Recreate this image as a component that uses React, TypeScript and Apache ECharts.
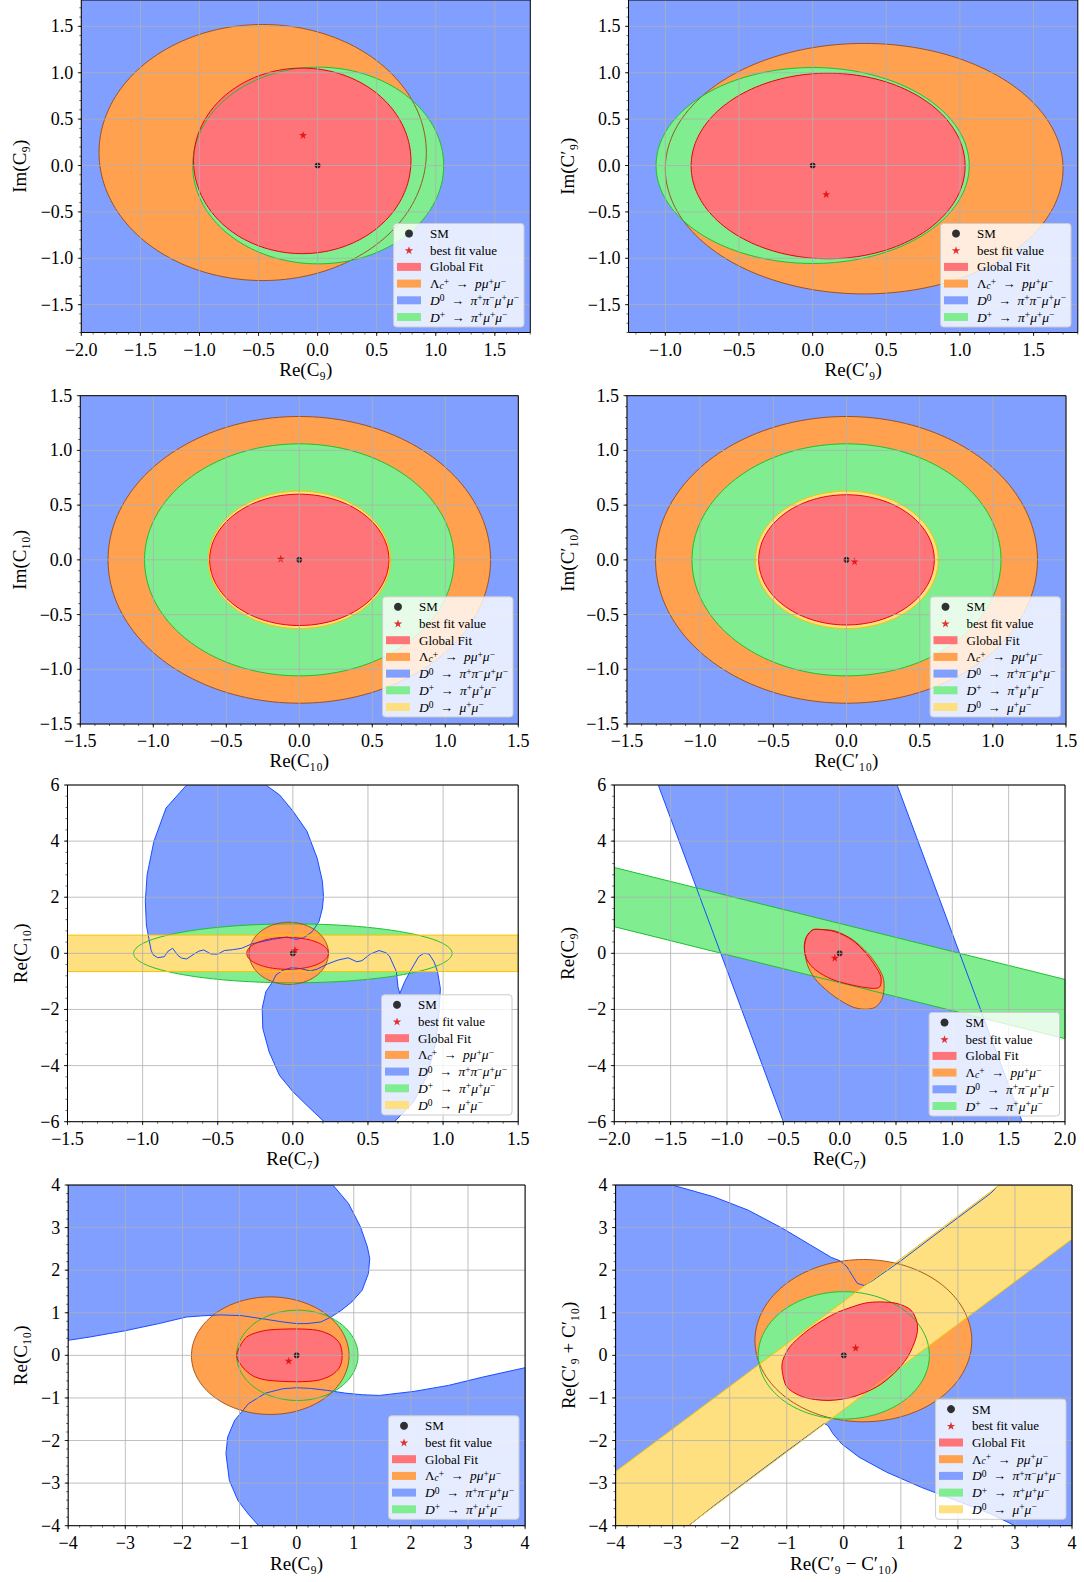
import React, { useEffect, useRef } from 'react';
import * as echarts from 'echarts';

const FONT = 'Liberation Serif';
const PAGE_W = 1084;
const PAGE_H = 1582;

// ---------------- colours ----------------
const FILL = { red: '#ff7479', orange: '#ffa14f', blue: '#809ffe', green: '#80ed91', yellow: '#fee081' };
const EDGE = { red: '#e8000b', orange: '#9a4a10', blue: '#1a4cff', green: '#1fbf2f', yellow: '#f5c400' };
const GRID_COLOR = '#b0b0b0';

// ---------------- legend names ----------------
const N_SM = 'SM';
const N_BF = 'best fit value';
const N_GF = 'Global Fit';
const N_LC = 'Λc⁺ → pμ⁺μ⁻';
const N_D0PP = 'D⁰ → π⁺π⁻μ⁺μ⁻';
const N_DP = 'D⁺ → π⁺μ⁺μ⁻';
const N_D0MM = 'D⁰ → μ⁺μ⁻';

const ARROW = '\u2002→\u2002';
const LEGEND_RICH_TEXT = {
  [N_SM]: '{g| }SM',
  [N_BF]: '{g| }best fit value',
  [N_GF]: '{g| }Global Fit',
  [N_LC]: '{g| }Λ{sub|c}{sup|+}' + ARROW + '{i|pμ}{sup|+}{i|μ}{sup|−}',
  [N_D0PP]: '{g| }{i|D}{sup|0}' + ARROW + '{i|π}{sup|+}{i|π}{sup|−}{i|μ}{sup|+}{i|μ}{sup|−}',
  [N_DP]: '{g| }{i|D}{sup|+}' + ARROW + '{i|π}{sup|+}{i|μ}{sup|+}{i|μ}{sup|−}',
  [N_D0MM]: '{g| }{i|D}{sup|0}' + ARROW + '{i|μ}{sup|+}{i|μ}{sup|−}',
};

const STAR = 'path://M50,0 L61.8,35.1 L98.1,35.1 L68.8,56.7 L79.4,90.9 L50,69.1 L20.6,90.9 L31.2,56.7 L1.9,35.1 L38.2,35.1 Z';

// ================= DATA =================
// ellipse: [centre x, centre y, half-width x, half-height y, correlation]

// ---- Panel 1: Re(C9) / Im(C9)
const P1_X_RANGE = [-2.0, 1.8];
const P1_Y_RANGE = [-1.8, 1.784];
const P1_X_TICKS = [-2.0, -1.5, -1.0, -0.5, 0.0, 0.5, 1.0, 1.5];
const P1_Y_TICKS = [-1.5, -1.0, -0.5, 0.0, 0.5, 1.0, 1.5];
const P1_ORANGE = [-0.465, 0.14, 1.385, 1.38, 0];
const P1_GREEN = [0.005, 0.0, 1.062, 1.06, 0];
const P1_RED = [-0.13, 0.05, 0.92, 1.0, 0];
const P1_BEST = [-0.123, 0.33];

// ---- Panel 2: Re(C9') / Im(C9')
const P2_X_RANGE = [-1.25, 1.8];
const P2_Y_RANGE = [-1.8, 1.784];
const P2_X_TICKS = [-1.0, -0.5, 0.0, 0.5, 1.0, 1.5];
const P2_Y_TICKS = [-1.5, -1.0, -0.5, 0.0, 0.5, 1.0, 1.5];
const P2_ORANGE = [0.35, -0.034, 1.35, 1.35, 0];
const P2_GREEN = [0.0, 0.0, 1.063, 1.056, 0];
const P2_RED = [0.105, -0.005, 0.93, 1.0, 0];
const P2_BEST = [0.092, -0.308];

// ---- Panel 3: Re(C10) / Im(C10)
const P3_X_RANGE = [-1.5, 1.5];
const P3_Y_RANGE = [-1.5, 1.5];
const P3_X_TICKS = [-1.5, -1.0, -0.5, 0.0, 0.5, 1.0, 1.5];
const P3_Y_TICKS = [-1.5, -1.0, -0.5, 0.0, 0.5, 1.0, 1.5];
const P3_ORANGE = [0.0, 0.0, 1.31, 1.31, 0];
const P3_GREEN = [0.0, 0.0, 1.06, 1.06, 0];
const P3_YELLOW = [0.0, 0.0, 0.624, 0.628, 0];
const P3_RED = [0.0, 0.0, 0.614, 0.6, 0];
const P3_BEST = [-0.127, 0.01];

// ---- Panel 4: Re(C10') / Im(C10')
const P4_X_RANGE = [-1.5, 1.5];
const P4_Y_RANGE = [-1.5, 1.5];
const P4_X_TICKS = [-1.5, -1.0, -0.5, 0.0, 0.5, 1.0, 1.5];
const P4_Y_TICKS = [-1.5, -1.0, -0.5, 0.0, 0.5, 1.0, 1.5];
const P4_ORANGE = [0.0, 0.0, 1.305, 1.31, 0];
const P4_GREEN = [0.0, 0.0, 1.056, 1.06, 0];
const P4_YELLOW = [0.002, 0.0, 0.625, 0.628, 0];
const P4_RED = [0.0, 0.0, 0.6, 0.595, 0];
const P4_BEST = [0.055, -0.012];

// ---- Panel 5: Re(C7) / Re(C10)
const P5_X_RANGE = [-1.5, 1.5];
const P5_Y_RANGE = [-6, 6];
const P5_X_TICKS = [-1.5, -1.0, -0.5, 0.0, 0.5, 1.0, 1.5];
const P5_Y_TICKS = [-6, -4, -2, 0, 2, 4, 6];
const P5_BLUE_UPPER = [
  [-0.707, 6.0], [-0.18, 6.0], [-0.089, 5.65], [0.002, 5.06], [0.094, 4.35], [0.162, 3.39],
  [0.197, 2.56], [0.204, 2.02], [0.197, 1.61], [0.174, 1.13], [0.128, 0.77], [0.07, 0.55],
  [0.02, 0.5], [-0.04, 0.58], [-0.135, 0.5], [-0.272, 0.34], [-0.341, 0.18], [-0.40, 0.13],
  [-0.455, 0.1], [-0.501, -0.03], [-0.547, -0.02], [-0.593, 0.12], [-0.625, 0.08], [-0.65, 0.0],
  [-0.707, -0.2], [-0.74, -0.17], [-0.764, -0.08], [-0.80, 0.18], [-0.83, 0.08], [-0.856, -0.12],
  [-0.90, -0.155], [-0.93, -0.05], [-0.943, 0.1], [-0.959, 0.54], [-0.975, 1.01], [-0.982, 1.85],
  [-0.97, 2.80], [-0.925, 3.99], [-0.844, 5.18],
];
const P5_BLUE_LOWER = [
  [0.208, -6.0], [0.117, -5.54], [0.002, -4.94], [-0.089, -4.35], [-0.158, -3.51], [-0.2, -2.68],
  [-0.204, -1.96], [-0.18, -1.37], [-0.135, -1.01], [-0.112, -0.77], [-0.066, -0.6], [-0.009, -0.51],
  [0.048, -0.54], [0.117, -0.63], [0.162, -0.56], [0.231, -0.38], [0.3, -0.24], [0.368, -0.16],
  [0.426, -0.3], [0.46, -0.26], [0.517, -0.02], [0.574, 0.1], [0.62, 0.02], [0.643, -0.1],
  [0.689, -0.65], [0.7, -1.2], [0.712, -1.43], [0.745, -1.0], [0.78, -0.65], [0.837, -0.12],
  [0.872, 0.0], [0.906, -0.02], [0.94, -0.3], [0.963, -0.65], [0.982, -1.25], [0.975, -1.96],
  [0.952, -3.15], [0.895, -4.35], [0.803, -5.3], [0.677, -6.0],
];
const P5_GREEN = [0.0, 0.0, 1.06, 1.05, 0];
const P5_YELLOW = [[-1.5, 0.65], [1.5, 0.65], [1.5, -0.65], [-1.5, -0.65]];
const P5_ORANGE = [-0.027, 0.0, 0.264, 1.107, 0];
const P5_RED = [-0.035, 0.0, 0.272, 0.57, 0];
const P5_BEST = [0.014, 0.12];

// ---- Panel 6: Re(C7) / Re(C9)
const P6_X_RANGE = [-2.0, 2.0];
const P6_Y_RANGE = [-6, 6];
const P6_X_TICKS = [-2.0, -1.5, -1.0, -0.5, 0.0, 0.5, 1.0, 1.5, 2.0];
const P6_Y_TICKS = [-6, -4, -2, 0, 2, 4, 6];
const P6_BLUE = [[-1.61, 6.0], [0.51, 6.0], [1.62, -6.0], [-0.5, -6.0]];
const P6_GREEN = [[-2.0, 3.06], [2.0, -0.93], [2.0, -3.04], [-2.0, 0.95]];
const P6_ORANGE = [
  [-0.197, 0.857], [-0.043, 0.80], [0.111, 0.5], [0.25, 0.0], [0.33, -0.42], [0.385, -0.85],
  [0.394, -1.25], [0.372, -1.667], [0.311, -1.93], [0.218, -1.99], [0.111, -1.905], [-0.043, -1.548],
  [-0.197, -1.01], [-0.274, -0.536], [-0.31, 0.0], [-0.31, 0.3], [-0.29, 0.6], [-0.24, 0.83],
];
const P6_RED = [
  [-0.197, 0.857], [-0.043, 0.774], [0.111, 0.476], [0.234, 0.0], [0.311, -0.417], [0.366, -0.833],
  [0.357, -1.19], [0.295, -1.25], [0.111, -1.13], [-0.074, -0.917], [-0.212, -0.595], [-0.289, -0.238],
  [-0.314, 0.238], [-0.295, 0.595], [-0.243, 0.833],
];
const P6_BEST = [-0.043, -0.155];

// ---- Panel 7: Re(C9) / Re(C10)
const P7_X_RANGE = [-4, 4];
const P7_Y_RANGE = [-4, 4];
const P7_X_TICKS = [-4, -3, -2, -1, 0, 1, 2, 3, 4];
const P7_Y_TICKS = [-4, -3, -2, -1, 0, 1, 2, 3, 4];
const P7_BLUE_UPPER = [
  [-4.0, 4.0], [0.634, 4.0], [0.906, 3.57], [1.117, 3.02], [1.238, 2.55], [1.28, 2.27], [1.256, 1.92],
  [1.147, 1.53], [0.966, 1.255], [0.785, 1.06], [0.604, 0.90], [0.423, 0.784], [0.181, 0.745],
  [0.0, 0.745], [-0.242, 0.784], [-0.543, 0.847], [-0.966, 0.933], [-1.33, 0.95], [-1.69, 0.925],
  [-1.93, 0.90], [-2.415, 0.745], [-3.02, 0.573], [-3.62, 0.431], [-4.0, 0.353],
];
const P7_BLUE_LOWER = [
  [-0.664, -4.0], [-0.845, -3.73], [-1.027, -3.41], [-1.178, -2.94], [-1.238, -2.31], [-1.208, -1.92],
  [-1.087, -1.53], [-0.845, -1.137], [-0.543, -0.886], [-0.242, -0.784], [0.0, -0.761], [0.242, -0.776],
  [0.543, -0.824], [0.845, -0.886], [1.147, -0.925], [1.449, -0.941], [2.053, -0.847], [2.657, -0.706],
  [3.26, -0.51], [4.0, -0.29], [4.0, -4.0],
];
const P7_GREEN = [0.012, 0.0, 1.063, 1.06, 0];
const P7_ORANGE = [-0.462, -0.008, 1.38, 1.38, 0];
const P7_RED = [
  [-1.05, 0.0], [-1.027, 0.118], [-0.966, 0.275], [-0.876, 0.43], [-0.725, 0.525], [-0.483, 0.596],
  [0.0, 0.62], [0.362, 0.588], [0.604, 0.47], [0.755, 0.275], [0.797, 0.0], [0.755, -0.275],
  [0.604, -0.47], [0.362, -0.588], [0.0, -0.62], [-0.483, -0.588], [-0.725, -0.51], [-0.894, -0.353],
  [-1.027, -0.118],
];
const P7_BEST = [-0.139, -0.125];

// ---- Panel 8: Re(C9' - C10') / Re(C9' + C10')
const P8_X_RANGE = [-4, 4];
const P8_Y_RANGE = [-4, 4];
const P8_X_TICKS = [-4, -3, -2, -1, 0, 1, 2, 3, 4];
const P8_Y_TICKS = [-4, -3, -2, -1, 0, 1, 2, 3, 4];
const P8_BLUE = [
  [-4.0, 4.0], [-3.01, 4.0], [-2.284, 3.725], [-1.677, 3.41], [-1.07, 2.98], [-0.583, 2.59],
  [-0.219, 2.3], [-0.067, 2.22], [0.055, 2.08], [0.146, 1.88], [0.237, 1.69], [0.358, 1.64],
  [0.51, 1.76], [1.0, 2.22], [1.6, 2.83], [2.21, 3.44], [2.57, 3.8], [2.72, 4.0], [4.0, 4.0],
  [4.0, -4.0], [3.0, -4.0], [2.58, -3.725], [1.97, -3.41], [1.36, -3.1], [0.753, -2.745],
  [0.267, -2.39], [-0.036, -2.08], [-0.188, -1.843], [-0.279, -1.647], [-0.34, -1.6],
  [-0.583, -1.84], [-1.07, -2.32], [-1.677, -2.93], [-2.284, -3.54], [-2.72, -4.0], [-4.0, -4.0],
];
const P8_ORANGE = [0.343, 0.345, 1.9, 1.905, 0];
const P8_GREEN = [0.0, 0.0, 1.5, 1.495, 0];
const P8_YELLOW = [[-4.0, -2.73], [2.73, 4.0], [4.0, 4.0], [4.0, 2.73], [-2.73, -4.0], [-4.0, -4.0]];
const P8_RED = [
  [0.632, 1.255], [0.936, 1.216], [1.179, 1.059], [1.288, 0.745], [1.27, 0.431], [1.118, -0.04],
  [0.875, -0.431], [0.571, -0.745], [0.146, -0.98], [-0.279, -1.059], [-0.705, -0.98], [-0.996, -0.745],
  [-1.081, -0.353], [-1.069, -0.118], [-0.948, 0.196], [-0.705, 0.51], [-0.462, 0.745], [-0.158, 0.98],
  [0.146, 1.137], [0.389, 1.23],
];
const P8_BEST = [0.207, 0.18];

const SM_POINT = [0, 0];

// ================= helpers =================
function ellipse(e) {
  const [cx, cy, a, b, rho] = e;
  const s = Math.sqrt(1 - rho * rho);
  const pts = [];
  const n = 180;
  for (let k = 0; k < n; k++) {
    const t = (2 * Math.PI * k) / n;
    pts.push([cx + a * Math.cos(t), cy + b * (rho * Math.cos(t) + s * Math.sin(t))]);
  }
  return pts;
}
function rectOf(xr, yr) {
  return [[xr[0], yr[0]], [xr[1], yr[0]], [xr[1], yr[1]], [xr[0], yr[1]]];
}
function fmt(dec) {
  return (v) => {
    const s = Math.abs(v).toFixed(dec);
    return (v < -1e-9 ? '−' : '') + s;
  };
}
function minorVals(lo, hi, step) {
  const out = [];
  const k0 = Math.ceil(lo / step - 1e-6);
  const k1 = Math.floor(hi / step + 1e-6);
  for (let k = k0; k <= k1; k++) out.push(k * step);
  return out;
}

const L_BLUE = (polys) => ({ name: N_D0PP, fill: FILL.blue, edge: EDGE.blue, lw: 1, polys });
const L_BLUE_BG = (polys) => ({ name: N_D0PP, fill: FILL.blue, polys });
const L_ORANGE = (polys, smooth = 0) => ({ name: N_LC, fill: FILL.orange, edge: EDGE.orange, lw: 0.9, polys, smooth });
const L_GREEN = (polys) => ({ name: N_DP, fill: FILL.green, edge: EDGE.green, lw: 1, polys });
const L_YELLOW = (polys) => ({ name: N_D0MM, fill: FILL.yellow, edge: EDGE.yellow, lw: 1, polys });
const L_RED = (polys, smooth = 0) => ({ name: N_GF, fill: FILL.red, edge: EDGE.red, lw: 1, polys, smooth });

const LEG6 = [N_SM, N_BF, N_GF, N_LC, N_D0PP, N_DP];
const LEG7 = [N_SM, N_BF, N_GF, N_LC, N_D0PP, N_DP, N_D0MM];

const PANELS = [
  {
    grid: { left: 81.3, top: 0, width: 449, height: 332.5 },
    xr: P1_X_RANGE, yr: P1_Y_RANGE, xTicks: P1_X_TICKS, yTicks: P1_Y_TICKS, xDec: 1, yDec: 1, xMinor: 0.1, yMinor: 0.1,
    xName: 'Re(C₉)', yName: 'Im(C₉)', xGap: 27, yGap: 52,
    layers: [
      L_BLUE_BG([rectOf(P1_X_RANGE, P1_Y_RANGE)]),
      L_ORANGE([ellipse(P1_ORANGE)]),
      L_GREEN([ellipse(P1_GREEN)]),
      L_RED([ellipse(P1_RED)]),
    ],
    best: P1_BEST, legend: { right: 560, bottom: 1255, names: LEG6 },
  },
  {
    grid: { left: 628.5, top: 0, width: 449.3, height: 332.5 },
    xr: P2_X_RANGE, yr: P2_Y_RANGE, xTicks: P2_X_TICKS, yTicks: P2_Y_TICKS, xDec: 1, yDec: 1, xMinor: 0.1, yMinor: 0.1,
    xName: 'Re(C′₉)', yName: 'Im(C′₉)', xGap: 27, yGap: 52,
    layers: [
      L_BLUE_BG([rectOf(P2_X_RANGE, P2_Y_RANGE)]),
      L_ORANGE([ellipse(P2_ORANGE)]),
      L_GREEN([ellipse(P2_GREEN)]),
      L_RED([ellipse(P2_RED)]),
    ],
    best: P2_BEST, legend: { right: 13, bottom: 1255, names: LEG6 },
  },
  {
    grid: { left: 80.3, top: 395.7, width: 438, height: 328.3 },
    xr: P3_X_RANGE, yr: P3_Y_RANGE, xTicks: P3_X_TICKS, yTicks: P3_Y_TICKS, xDec: 1, yDec: 1, xMinor: 0.1, yMinor: 0.1,
    xName: 'Re(C₁₀)', yName: 'Im(C₁₀)', xGap: 25, yGap: 51,
    layers: [
      L_BLUE_BG([rectOf(P3_X_RANGE, P3_Y_RANGE)]),
      L_ORANGE([ellipse(P3_ORANGE)]),
      L_GREEN([ellipse(P3_GREEN)]),
      L_YELLOW([ellipse(P3_YELLOW)]),
      L_RED([ellipse(P3_RED)]),
    ],
    best: P3_BEST, legend: { right: 571, bottom: 865, names: LEG7 },
  },
  {
    grid: { left: 627, top: 395.7, width: 439, height: 328.3 },
    xr: P4_X_RANGE, yr: P4_Y_RANGE, xTicks: P4_X_TICKS, yTicks: P4_Y_TICKS, xDec: 1, yDec: 1, xMinor: 0.1, yMinor: 0.1,
    xName: 'Re(C′₁₀)', yName: 'Im(C′₁₀)', xGap: 25, yGap: 50,
    layers: [
      L_BLUE_BG([rectOf(P4_X_RANGE, P4_Y_RANGE)]),
      L_ORANGE([ellipse(P4_ORANGE)]),
      L_GREEN([ellipse(P4_GREEN)]),
      L_YELLOW([ellipse(P4_YELLOW)]),
      L_RED([ellipse(P4_RED)]),
    ],
    best: P4_BEST, legend: { right: 23.5, bottom: 865, names: LEG7 },
  },
  {
    grid: { left: 67.5, top: 785, width: 450.7, height: 336.7 },
    xr: P5_X_RANGE, yr: P5_Y_RANGE, xTicks: P5_X_TICKS, yTicks: P5_Y_TICKS, xDec: 1, yDec: 0, xMinor: 0.1, yMinor: 0.4,
    xName: 'Re(C₇)', yName: 'Re(C₁₀)', xGap: 27, yGap: 38,
    layers: [
      L_BLUE([P5_BLUE_UPPER, P5_BLUE_LOWER]),
      L_GREEN([ellipse(P5_GREEN)]),
      L_YELLOW([P5_YELLOW]),
      L_ORANGE([ellipse(P5_ORANGE)]),
      L_RED([ellipse(P5_RED)]),
    ],
    best: P5_BEST, legend: { right: 572, bottom: 467, names: LEG7 },
  },
  {
    grid: { left: 614.3, top: 785, width: 450.7, height: 336.7 },
    xr: P6_X_RANGE, yr: P6_Y_RANGE, xTicks: P6_X_TICKS, yTicks: P6_Y_TICKS, xDec: 1, yDec: 0, xMinor: 0.1, yMinor: 0.4,
    xName: 'Re(C₇)', yName: 'Re(C₉)', xGap: 27, yGap: 37,
    layers: [
      L_BLUE([P6_BLUE]),
      L_GREEN([P6_GREEN]),
      L_ORANGE([P6_ORANGE], 0.3),
      L_RED([P6_RED], 0.3),
    ],
    best: P6_BEST, legend: { right: 24.5, bottom: 466, names: LEG6 },
  },
  {
    grid: { left: 68.2, top: 1185, width: 456.9, height: 340.7 },
    xr: P7_X_RANGE, yr: P7_Y_RANGE, xTicks: P7_X_TICKS, yTicks: P7_Y_TICKS, xDec: 0, yDec: 0, xMinor: 0.2, yMinor: 0.2,
    xName: 'Re(C₉)', yName: 'Re(C₁₀)', xGap: 28, yGap: 38,
    layers: [
      L_BLUE([P7_BLUE_UPPER, P7_BLUE_LOWER]),
      L_GREEN([ellipse(P7_GREEN)]),
      L_ORANGE([ellipse(P7_ORANGE)]),
      L_RED([P7_RED], 0.3),
    ],
    best: P7_BEST, legend: { right: 565, bottom: 62.7, names: LEG6 },
  },
  {
    grid: { left: 615.6, top: 1185, width: 456.4, height: 340.7 },
    xr: P8_X_RANGE, yr: P8_Y_RANGE, xTicks: P8_X_TICKS, yTicks: P8_Y_TICKS, xDec: 0, yDec: 0, xMinor: 0.2, yMinor: 0.2,
    xName: 'Re(C′₉ − C′₁₀)', yName: 'Re(C′₉ + C′₁₀)', xGap: 28, yGap: 38,
    layers: [
      L_BLUE([P8_BLUE]),
      L_ORANGE([ellipse(P8_ORANGE)]),
      L_GREEN([ellipse(P8_GREEN)]),
      L_YELLOW([P8_YELLOW]),
      L_RED([P8_RED], 0.3),
    ],
    best: P8_BEST, legend: { right: 18, bottom: 62.7, names: LEG7 },
  },
];

const COLOR_OF = {
  [N_GF]: FILL.red, [N_LC]: FILL.orange, [N_D0PP]: FILL.blue, [N_DP]: FILL.green, [N_D0MM]: FILL.yellow,
  [N_SM]: '#000000', [N_BF]: '#e00000',
};

function buildOption() {
  const grid = [];
  const xAxis = [];
  const yAxis = [];
  const series = [];
  const legend = [];

  PANELS.forEach((p, i) => {
    grid.push({ ...p.grid, outerBoundsMode: 'none', containLabel: false, show: false });
    xAxis.push({
      type: 'value', gridIndex: i, min: p.xr[0], max: p.xr[1], z: 6,
      axisLine: { show: false }, axisTick: { show: false }, splitLine: { show: false },
      axisLabel: {
        customValues: p.xTicks, formatter: fmt(p.xDec), fontFamily: FONT, fontSize: 18, color: '#000', margin: 8,
      },
      name: p.xName, nameLocation: 'middle', nameGap: p.xGap,
      nameTextStyle: { fontFamily: FONT, fontSize: 19, color: '#000' },
    });
    yAxis.push({
      type: 'value', gridIndex: i, min: p.yr[0], max: p.yr[1], z: 6,
      axisLine: { show: false }, axisTick: { show: false }, splitLine: { show: false },
      axisLabel: {
        customValues: p.yTicks, formatter: fmt(p.yDec), fontFamily: FONT, fontSize: 18, color: '#000', margin: 8,
      },
      name: p.yName, nameLocation: 'middle', nameGap: p.yGap,
      nameTextStyle: { fontFamily: FONT, fontSize: 19, color: '#000' },
    });

    // filled regions
    p.layers.forEach((layer) => {
      series.push({
        type: 'custom', name: layer.name, xAxisIndex: i, yAxisIndex: i, coordinateSystem: 'cartesian2d',
        clip: true, silent: true, z: 2, itemStyle: { color: layer.fill }, animation: false,
        data: [[0, 0]],
        renderItem: (params, api) => ({
          type: 'group',
          children: layer.polys.map((poly) => ({
            type: 'polygon',
            shape: { points: poly.map((pt) => api.coord(pt)), smooth: layer.smooth || 0 },
            style: { fill: layer.fill, stroke: null, lineWidth: 0 },
          })),
        }),
      });
    });
    // outlines
    series.push({
      type: 'custom', name: 'outline-' + i, xAxisIndex: i, yAxisIndex: i, coordinateSystem: 'cartesian2d',
      clip: true, silent: true, z: 3, animation: false, data: [[0, 0]],
      renderItem: (params, api) => {
        const children = [];
        p.layers.forEach((layer) => {
          if (!layer.edge) return;
          layer.polys.forEach((poly) => {
            children.push({
              type: 'polygon',
              shape: { points: poly.map((pt) => api.coord(pt)), smooth: layer.smooth || 0 },
              style: { fill: 'none', stroke: layer.edge, lineWidth: layer.lw || 1 },
            });
          });
        });
        return { type: 'group', children };
      },
    });
    // markers
    series.push({
      type: 'scatter', name: N_SM, xAxisIndex: i, yAxisIndex: i, z: 4, silent: true,
      symbol: 'circle', symbolSize: 6, itemStyle: { color: '#000' }, data: [SM_POINT],
    });
    series.push({
      type: 'scatter', name: N_BF, xAxisIndex: i, yAxisIndex: i, z: 4, silent: true,
      symbol: STAR, symbolSize: 8, itemStyle: { color: '#e00000' }, data: [p.best],
    });
    // grid lines, frame and ticks on top
    series.push({
      type: 'custom', name: 'decor-' + i, xAxisIndex: i, yAxisIndex: i, coordinateSystem: 'cartesian2d',
      clip: false, silent: true, z: 5, animation: false, data: [[0, 0]],
      renderItem: (params, api) => {
        const [x0, x1] = p.xr;
        const [y0, y1] = p.yr;
        const ch = [];
        const L = (a, b, stroke, w) =>
          ch.push({ type: 'line', shape: { x1: a[0], y1: a[1], x2: b[0], y2: b[1] }, style: { stroke, lineWidth: w } });
        p.xTicks.forEach((v) => L(api.coord([v, y0]), api.coord([v, y1]), GRID_COLOR, 0.8));
        p.yTicks.forEach((v) => L(api.coord([x0, v]), api.coord([x1, v]), GRID_COLOR, 0.8));
        minorVals(x0, x1, p.xMinor).forEach((v) => {
          const q = api.coord([v, y0]);
          L(q, [q[0], q[1] + 2], '#000', 0.6);
        });
        minorVals(y0, y1, p.yMinor).forEach((v) => {
          const q = api.coord([x0, v]);
          L([q[0] - 2, q[1]], q, '#000', 0.6);
        });
        p.xTicks.forEach((v) => {
          const q = api.coord([v, y0]);
          L(q, [q[0], q[1] + 3.5], '#000', 0.8);
        });
        p.yTicks.forEach((v) => {
          const q = api.coord([x0, v]);
          L([q[0] - 3.5, q[1]], q, '#000', 0.8);
        });
        const tl = api.coord([x0, y1]);
        const br = api.coord([x1, y0]);
        ch.push({
          type: 'rect', shape: { x: tl[0], y: tl[1], width: br[0] - tl[0], height: br[1] - tl[1] },
          style: { fill: 'none', stroke: '#000', lineWidth: 1 },
        });
        return { type: 'group', children: ch };
      },
    });

    legend.push({
      orient: 'vertical', right: p.legend.right, bottom: p.legend.bottom, z: 10, selectedMode: false,
      itemWidth: 24, itemHeight: 8, itemGap: 2.7,
      padding: [3, 5, 3, 3.4],
      backgroundColor: 'rgba(255,255,255,0.8)', borderColor: '#cccccc', borderWidth: 1, borderRadius: 3,
      itemStyle: { borderWidth: 0 },
      data: p.legend.names.map((n) => ({
        name: n,
        icon: n === N_SM ? 'circle' : n === N_BF ? STAR : 'rect',
        itemStyle: { color: COLOR_OF[n], borderWidth: 0 },
      })),
      formatter: (name) => LEGEND_RICH_TEXT[name] || name,
      textStyle: {
        fontFamily: FONT, fontSize: 13, lineHeight: 14, color: '#000',
        rich: {
          g: { width: 4, fontSize: 4, lineHeight: 14 },
          i: { fontFamily: FONT, fontSize: 13.5, fontStyle: 'italic', lineHeight: 14, color: '#000' },
          sup: { fontFamily: FONT, fontSize: 9.5, verticalAlign: 'top', lineHeight: 8, color: '#000' },
          sub: { fontFamily: FONT, fontSize: 9.5, fontStyle: 'italic', verticalAlign: 'bottom', lineHeight: 8, color: '#000' },
        },
      },
    });
  });

  return { animation: false, backgroundColor: '#ffffff', grid, xAxis, yAxis, series, legend };
}

export default function App() {
  const ref = useRef(null);
  useEffect(() => {
    if (!ref.current) return;
    const chart = echarts.init(ref.current, null, { renderer: 'svg' });
    chart.setOption(buildOption());
    return () => chart.dispose();
  }, []);
  return (
    <div
      ref={ref}
      style={{ position: 'absolute', left: 0, top: 0, width: PAGE_W, height: PAGE_H, background: '#fff' }}
    />
  );
}
